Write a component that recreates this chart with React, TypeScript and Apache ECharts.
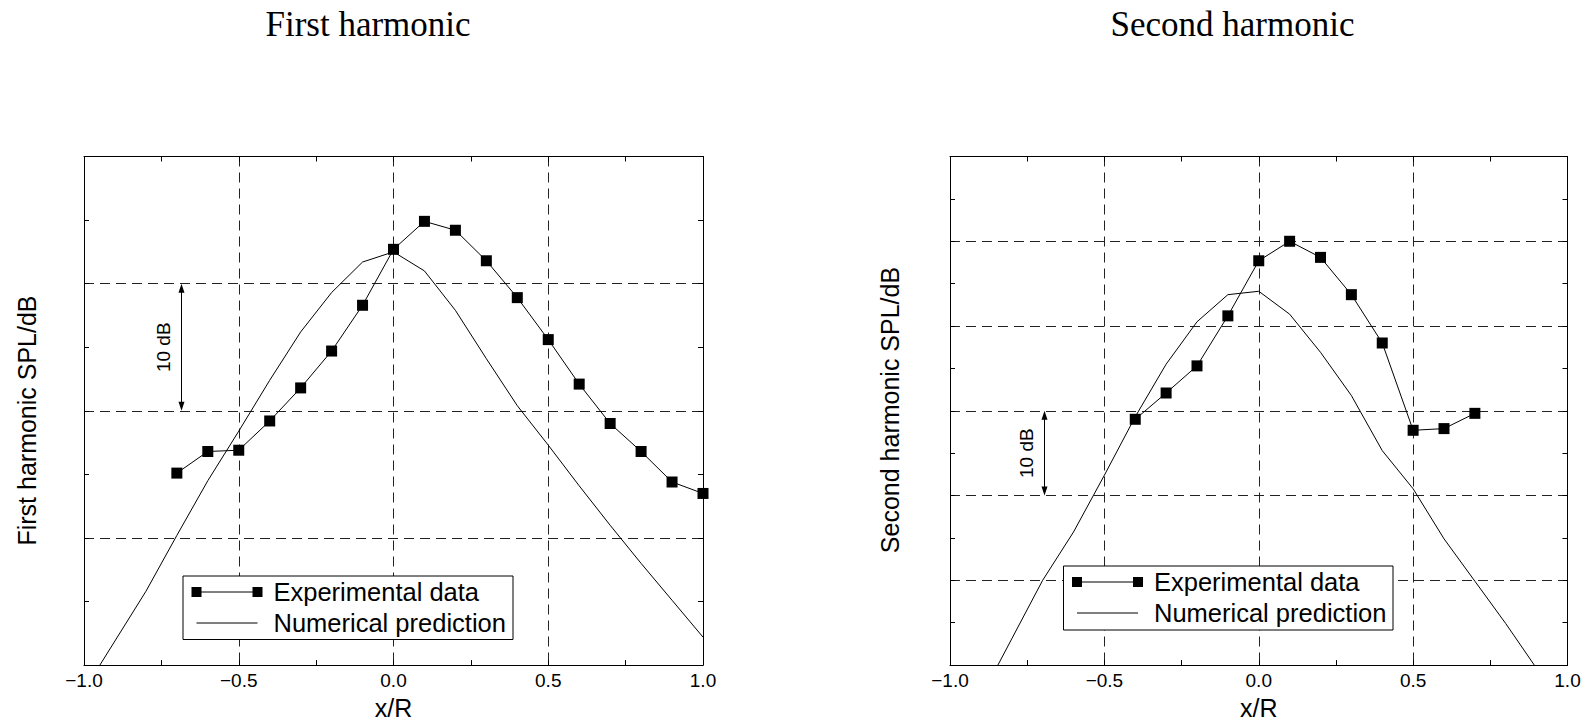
import React, { useEffect, useRef } from 'react';
import * as echarts from 'echarts';

// ---------- data ----------
const X_TICK_MIN = -1;
const X_TICK_MAX = 1;

const X_EXP_1 = [-0.7, -0.6, -0.5, -0.4, -0.3, -0.2, -0.1, 0.0, 0.1, 0.2, 0.3, 0.4, 0.5, 0.6, 0.7, 0.8, 0.9, 1.0];
const Y_EXP_1 = [15.1, 16.8, 16.9, 19.2, 21.8, 24.7, 28.3, 32.7, 34.9, 34.2, 31.8, 28.9, 25.6, 22.1, 19.0, 16.8, 14.4, 13.5];

const X_NUM = [-1.0, -0.9, -0.8, -0.7, -0.6, -0.5, -0.4, -0.3, -0.2, -0.1, 0.0, 0.1, 0.2, 0.3, 0.4, 0.5, 0.6, 0.7, 0.8, 0.9, 1.0];
const Y_NUM_1 = [-2.0, 1.9, 5.8, 10.2, 14.5, 18.4, 22.4, 26.2, 29.3, 31.7, 32.5, 31.0, 27.9, 24.1, 20.4, 17.3, 14.1, 11.0, 8.0, 5.1, 2.2];

const X_EXP_2 = [-0.4, -0.3, -0.2, -0.1, 0.0, 0.1, 0.2, 0.3, 0.4, 0.5, 0.6, 0.7];
const Y_EXP_2 = [29.0, 32.1, 35.3, 41.2, 47.7, 50.0, 48.1, 43.7, 38.0, 27.7, 27.9, 29.7];

const Y_NUM_2 = [-10.7, -3.8, 3.1, 10.0, 15.7, 22.4, 29.3, 35.5, 40.5, 43.7, 44.1, 41.4, 36.9, 31.8, 25.3, 20.8, 14.9, 9.9, 4.9, -0.4, -5.5];

const Y_RANGE_1 = [0, 40];
const Y_RANGE_2 = [0, 60];
const Y_INTERVAL = 10;

// 10 dB scale arrows: [x, yLow, yHigh]
const ARROW_1 = [-0.685, 20, 30];
const ARROW_2 = [-0.695, 20, 30];

const TITLES = ['First harmonic', 'Second harmonic'];
const Y_NAMES = ['First harmonic SPL/dB', 'Second harmonic SPL/dB'];
const X_NAME = 'x/R';
const LEGEND_NAMES = ['Experimental data', 'Numerical prediction'];

const zip = (xs: number[], ys: number[]) => xs.map((x, i) => [x, ys[i]]);

const SANS = '"Liberation Sans", Arial, Helvetica, sans-serif';
const SERIF = '"Liberation Serif", "Times New Roman", serif';

export default function App() {
  const ref = useRef<HTMLDivElement>(null);

  useEffect(() => {
    const chart = echarts.init(ref.current!, null, { renderer: 'svg' });

    const dashed = { show: true, lineStyle: { color: '#222', width: 1, type: [10, 6] } };

    const xAxis = (gridIndex: number, bottom: boolean) => ({
      type: 'value',
      gridIndex,
      min: X_TICK_MIN,
      max: X_TICK_MAX,
      interval: 0.5,
      position: bottom ? 'bottom' : 'top',
      axisLine: { show: true, onZero: false, lineStyle: { color: '#000', width: 1 } },
      axisTick: { show: true, inside: true, length: 5, lineStyle: { color: '#000' } },
      minorTick: { show: true, splitNumber: 2, length: 5, lineStyle: { color: '#000' } },
      axisLabel: bottom
        ? {
            show: true,
            margin: 6,
            fontSize: 19,
            fontFamily: SANS,
            color: '#000',
            formatter: (v: number) => v.toFixed(1).replace('-', '\u2212'),
          }
        : { show: false },
      splitLine: bottom ? dashed : { show: false },
      minorSplitLine: { show: false },
      name: bottom ? X_NAME : '',
      nameLocation: 'middle',
      nameGap: 27,
      nameTextStyle: { fontSize: 25, fontFamily: SANS, color: '#000' },
    });

    const yAxis = (gridIndex: number, range: number[], left: boolean) => ({
      type: 'value',
      gridIndex,
      min: range[0],
      max: range[1],
      interval: Y_INTERVAL,
      position: left ? 'left' : 'right',
      axisLine: { show: true, onZero: false, lineStyle: { color: '#000', width: 1 } },
      axisTick: { show: true, inside: true, length: 5, lineStyle: { color: '#000' } },
      minorTick: { show: true, splitNumber: 2, length: 5, lineStyle: { color: '#000' } },
      axisLabel: { show: false },
      splitLine: left ? dashed : { show: false },
      minorSplitLine: { show: false },
    });

    const expSeries = (idx: number, data: number[][]) => ({
      type: 'line',
      name: LEGEND_NAMES[0],
      xAxisIndex: idx,
      yAxisIndex: idx,
      data,
      symbol: 'rect',
      symbolSize: 11,
      showSymbol: true,
      itemStyle: { color: '#000' },
      lineStyle: { color: '#000', width: 1 },
      z: 5,
    });
    const numSeries = (idx: number, data: number[][]) => ({
      type: 'line',
      name: LEGEND_NAMES[1],
      xAxisIndex: idx,
      yAxisIndex: idx,
      data,
      symbol: 'none',
      showSymbol: false,
      lineStyle: { color: '#000', width: 1 },
      clip: true,
      z: 4,
    });

    chart.setOption({
      animation: false,
      backgroundColor: '#fff',
      textStyle: { fontFamily: SANS },
      grid: [
        { left: 84, top: 156.5, width: 619, height: 515 },
        { left: 950, top: 156.5, width: 617.5, height: 515 },
      ],
      xAxis: [xAxis(0, true), xAxis(0, false), xAxis(1, true), xAxis(1, false)],
      yAxis: [
        yAxis(0, Y_RANGE_1, true),
        yAxis(0, Y_RANGE_1, false),
        yAxis(1, Y_RANGE_2, true),
        yAxis(1, Y_RANGE_2, false),
      ],
      series: [
        numSeries(0, zip(X_NUM, Y_NUM_1)),
        expSeries(0, zip(X_EXP_1, Y_EXP_1)),
        numSeries(2, zip(X_NUM, Y_NUM_2)),
        expSeries(2, zip(X_EXP_2, Y_EXP_2)),
      ],
    });

    // ----- decorations computed through the chart's own scales -----
    const arrowEls = (gridIndex: number, arrow: number[]) => {
      const top = chart.convertToPixel({ gridIndex } as any, [arrow[0], arrow[2]]) as number[];
      const bot = chart.convertToPixel({ gridIndex } as any, [arrow[0], arrow[1]]) as number[];
      const ax = Math.round(top[0]) + 0.5;
      const yT = top[1];
      const yB = bot[1];
      return [
        { type: 'line', shape: { x1: ax, y1: yT + 4, x2: ax, y2: yB - 4 }, style: { stroke: '#000', lineWidth: 1 } },
        { type: 'polygon', shape: { points: [[ax, yT], [ax - 3, yT + 9], [ax + 3, yT + 9]] }, style: { fill: '#000' } },
        { type: 'polygon', shape: { points: [[ax, yB], [ax - 3, yB - 9], [ax + 3, yB - 9]] }, style: { fill: '#000' } },
        {
          type: 'text',
          x: ax - 18,
          y: (yT + yB) / 2,
          rotation: Math.PI / 2,
          style: { text: '10 dB', fontSize: 19, fontFamily: SANS, fill: '#000', align: 'center', verticalAlign: 'middle' },
        },
      ];
    };

    const legendGroup = (x: number, y: number, w: number, h: number) => ({
      type: 'group',
      x,
      y,
      z: 100,
      children: [
        { type: 'rect', shape: { x: 0.5, y: 0.5, width: w, height: h }, style: { fill: '#fff', stroke: '#000', lineWidth: 1 } },
        { type: 'line', shape: { x1: 14, y1: 16.5, x2: 75, y2: 16.5 }, style: { stroke: '#000', lineWidth: 1 } },
        { type: 'rect', shape: { x: 9, y: 11.5, width: 10, height: 10 }, style: { fill: '#000' } },
        { type: 'rect', shape: { x: 70, y: 11.5, width: 10, height: 10 }, style: { fill: '#000' } },
        {
          type: 'text',
          x: 91,
          y: 16.5,
          style: { text: LEGEND_NAMES[0], fontSize: 25.5, fontFamily: SANS, fill: '#000', verticalAlign: 'middle', align: 'left' },
        },
        { type: 'line', shape: { x1: 14, y1: 47.5, x2: 75, y2: 47.5 }, style: { stroke: '#000', lineWidth: 1 } },
        {
          type: 'text',
          x: 91,
          y: 47.5,
          style: { text: LEGEND_NAMES[1], fontSize: 25.5, fontFamily: SANS, fill: '#000', verticalAlign: 'middle', align: 'left' },
        },
      ],
    });

    const titleText = (text: string, x: number) => ({
      type: 'text',
      x,
      y: 24.5,
      style: { text, fontSize: 35, fontFamily: SERIF, fill: '#000', align: 'center', verticalAlign: 'middle' },
    });
    const yNameText = (text: string, x: number, y: number) => ({
      type: 'text',
      x,
      y,
      rotation: Math.PI / 2,
      style: { text, fontSize: 25, fontFamily: SANS, fill: '#000', align: 'center', verticalAlign: 'middle' },
    });

    chart.setOption({
      graphic: [
        titleText(TITLES[0], 368),
        titleText(TITLES[1], 1232.5),
        yNameText(Y_NAMES[0], 27, 420.5),
        yNameText(Y_NAMES[1], 890, 410),
        { type: 'group', z: 90, children: arrowEls(0, ARROW_1) },
        { type: 'group', z: 90, children: arrowEls(1, ARROW_2) },
        legendGroup(182.5, 575.5, 330, 63.5),
        legendGroup(1063, 565.5, 329.5, 64),
      ],
    });

    return () => chart.dispose();
  }, []);

  return <div ref={ref} style={{ position: 'absolute', left: 0, top: 0, width: 1593, height: 725 }} />;
}
